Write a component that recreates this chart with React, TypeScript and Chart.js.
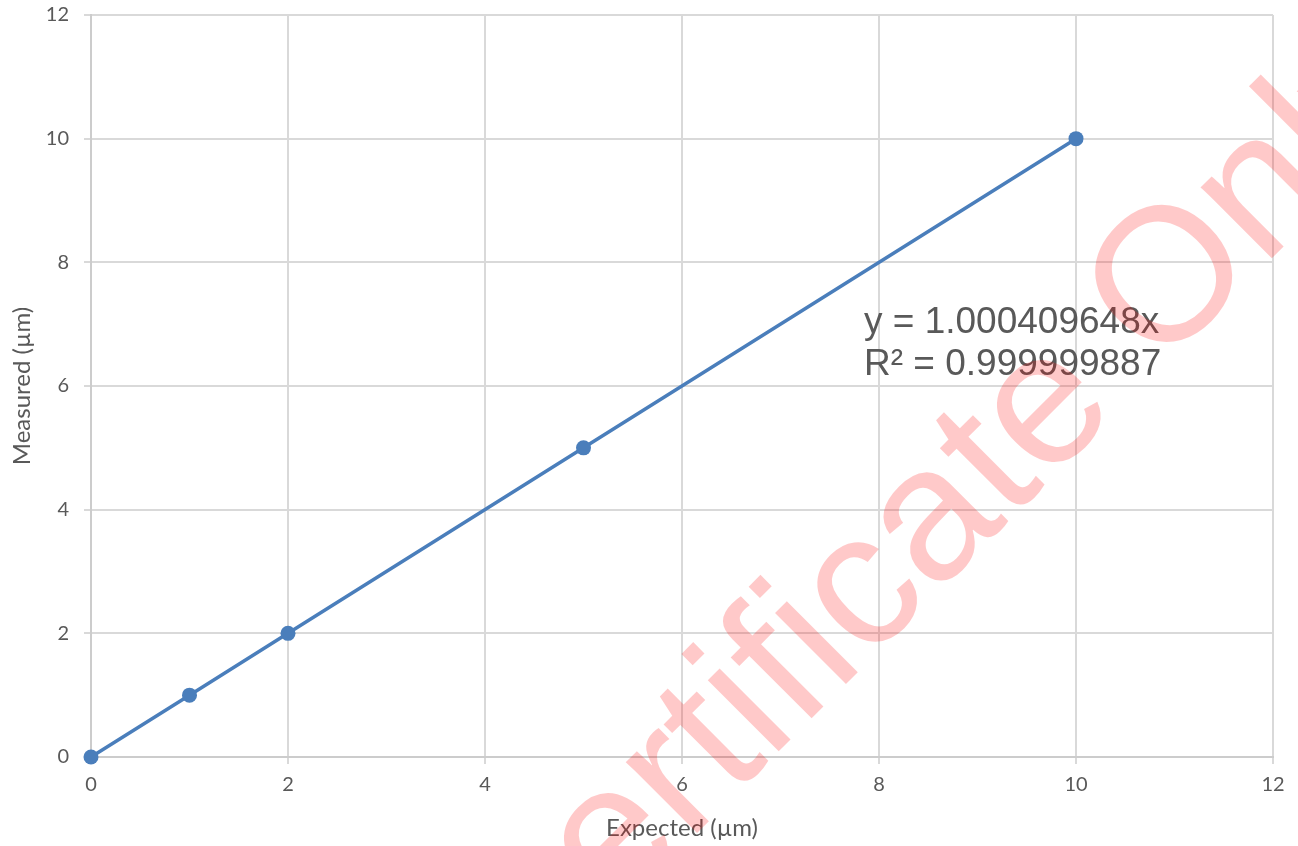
import React, { useEffect, useRef } from "react";
import { Chart, registerables } from "chart.js";

Chart.register(...registerables);

const expected = [0, 1, 2, 5, 10];
const measured = [0, 1, 2, 5, 10];
const trendLines = ["y = 1.000409648x", "R² = 0.999999887"];
const xTitle = "Expected (µm)";
const yTitle = "Measured (µm)";
const watermark = "Certificate Only";

const W = 1298;
const H = 846;

const overlayPlugin = {
  id: "overlay",
  afterDatasetsDraw(chart: any) {
    const ctx = chart.ctx;
    ctx.save();
    ctx.fillStyle = "#595959";
    ctx.font = "37px 'Liberation Sans', Arial, sans-serif";
    ctx.textAlign = "left";
    ctx.textBaseline = "alphabetic";
    ctx.fillText(trendLines[0], 864, 333);
    ctx.fillText(trendLines[1], 864, 375);
    ctx.restore();
  },
  afterDraw(chart: any) {
    const ctx = chart.ctx;
    ctx.save();
    ctx.font = "190px 'Liberation Sans', Arial, sans-serif";
    ctx.translate(516, 1014);
    ctx.rotate((-45 * Math.PI) / 180);
    ctx.fillStyle = "rgba(255,0,0,0.21)";
    ctx.textAlign = "left";
    ctx.textBaseline = "alphabetic";
    ctx.fillText(watermark, 0, 0);
    ctx.restore();
  },
};

export default function App() {
  const ref = useRef<HTMLCanvasElement | null>(null);
  useEffect(() => {
    if (!ref.current) return;
    const tickFont = { family: "Lato, sans-serif", size: 20 };
    const titleFont = { family: "Lato, sans-serif", size: 24 };
    const chart = new Chart(ref.current, {
      type: "scatter",
      data: {
        datasets: [
          {
            label: "Measured",
            data: expected.map((x, i) => ({ x, y: measured[i] })),
            showLine: true,
            clip: false,
            borderColor: "#4a7ebb",
            backgroundColor: "#4a7ebb",
            borderWidth: 3.5,
            pointRadius: 7.5,
            pointBorderWidth: 0,
          },
        ],
      },
      options: {
        responsive: false,
        animation: false,
        events: [],
        layout: { padding: { top: 15, right: 25, left: 0, bottom: 0 } },
        plugins: { legend: { display: false }, tooltip: { enabled: false } },
        scales: {
          x: {
            type: "linear",
            min: 0,
            max: 12,
            afterFit: (s: any) => {
              s.height = 89;
              s.paddingLeft = 0;
              s.paddingRight = 0;
            },
            ticks: { stepSize: 2, color: "#595959", font: tickFont, padding: 9, maxRotation: 0 },
            grid: { color: "#d9d9d9", lineWidth: 2, tickLength: 7 },
            border: { color: "#cccccc", width: 2 },
            title: {
              display: true,
              text: xTitle,
              color: "#595959",
              font: titleFont,
              padding: { top: 0, bottom: 3.6 },
            },
          },
          y: {
            type: "linear",
            min: 0,
            max: 12,
            afterFit: (s: any) => {
              s.width = 91;
              s.paddingTop = 0;
              s.paddingBottom = 0;
            },
            ticks: { stepSize: 2, color: "#595959", font: tickFont, padding: 15 },
            grid: { color: "#d9d9d9", lineWidth: 2, tickLength: 7 },
            border: { color: "#cccccc", width: 2 },
            title: {
              display: true,
              text: yTitle,
              color: "#595959",
              font: titleFont,
              padding: { top: 7.6, bottom: 0 },
            },
          },
        },
      },
      plugins: [overlayPlugin],
    });
    return () => chart.destroy();
  }, []);
  return (
    <div style={{ position: "fixed", left: 0, top: 0, width: W, height: H, background: "#fff" }}>
      <canvas ref={ref} width={W} height={H} style={{ display: "block" }} />
    </div>
  );
}
